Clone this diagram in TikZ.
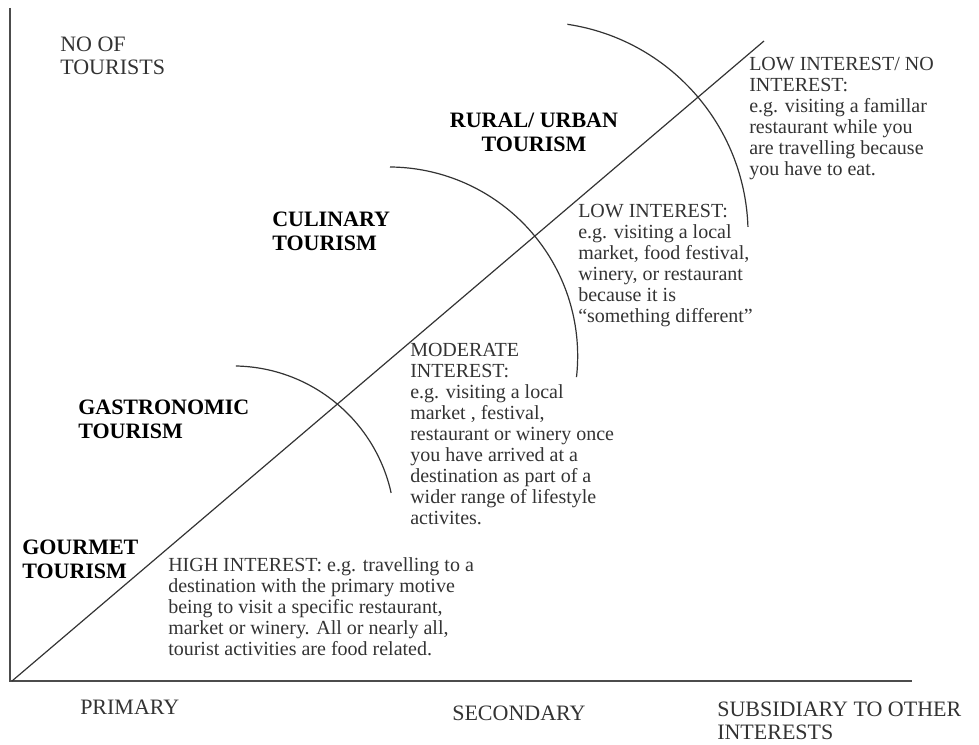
\documentclass[tikz,border=0pt]{standalone}
\usepackage{fontspec}
\setmainfont{Liberation Serif}
\usepackage{xcolor}
\definecolor{inkgray}{HTML}{333333}

\begin{document}
\begin{tikzpicture}[
  x=0.75pt, y=0.75pt,
  axisline/.style={draw=black!70, line width=1.4pt},
  curve/.style={draw=inkgray, line width=0.9pt},
  tourism/.style={anchor=north west, inner sep=0pt, align=left, font=\fontsize{16.5}{18}\selectfont\bfseries},
  note/.style={anchor=north west, inner sep=0pt, align=left, text=inkgray, font=\fontsize{15}{15.75}\selectfont},
  axislabel/.style={anchor=north west, inner sep=0pt, align=left, text=inkgray, font=\fontsize{16.5}{17.25}\selectfont}
]
\useasboundingbox (0,0) rectangle (979,744);
\coordinate (origin) at (10,63);
\coordinate (ytop) at (10,736);
\coordinate (xend) at (912,63);
\coordinate (diagstart) at (12,63);
\coordinate (diagend) at (764,703);
\draw[axisline] (ytop) -- (origin) -- (xend);
\draw[curve] (diagstart) -- (diagend);

\coordinate (gastrotop) at (235.8,378);
\coordinate (culinarytop) at (390,577);
\coordinate (ruraltop) at (567.4,719.7);
\draw[curve] (gastrotop) arc[start angle=89, end angle=12.5, radius=162];
\draw[curve] (culinarytop) arc[start angle=89.6, end angle=-6.4, radius=189];
\draw[curve] (ruraltop) arc[start angle=81.5, end angle=1.9, radius=212];

\node[axislabel] (tourists) at (60,707) {NO OF\\TOURISTS};
\node[tourism, anchor=north, align=center] (rural) at (534,631) {RURAL/ URBAN\\TOURISM};
\node[tourism] (culinary) at (272,532) {CULINARY\\TOURISM};
\node[tourism] (gastro) at (78,344) {GASTRONOMIC\\TOURISM};
\node[tourism] (gourmet) at (22,204) {GOURMET\\TOURISM};

\node[note] (high) at (168,187) {HIGH INTEREST: e.g. travelling to a\\destination with the primary motive\\being to visit a specific restaurant,\\market or winery. All or nearly all,\\tourist activities are food related.};
\node[note] (moderate) at (410,401) {MODERATE\\INTEREST:\\e.g. visiting a local\\market , festival,\\restaurant or winery once\\you have arrived at a\\destination as part of a\\wider range of lifestyle\\activites.};
\node[note] (low) at (578,540) {LOW INTEREST:\\e.g. visiting a local\\market, food festival,\\winery, or restaurant\\because it is\\“something different”};
\node[note] (nointerest) at (749,687) {LOW INTEREST/ NO\\INTEREST:\\e.g. visiting a famillar\\restaurant while you\\are travelling because\\you have to eat.};

\node[axislabel] (primary) at (80,44) {PRIMARY};
\node[axislabel] (secondary) at (452,38) {SECONDARY};
\node[axislabel] (subsidiary) at (717,42) {SUBSIDIARY TO OTHER\\INTERESTS};
\end{tikzpicture}
\end{document}
